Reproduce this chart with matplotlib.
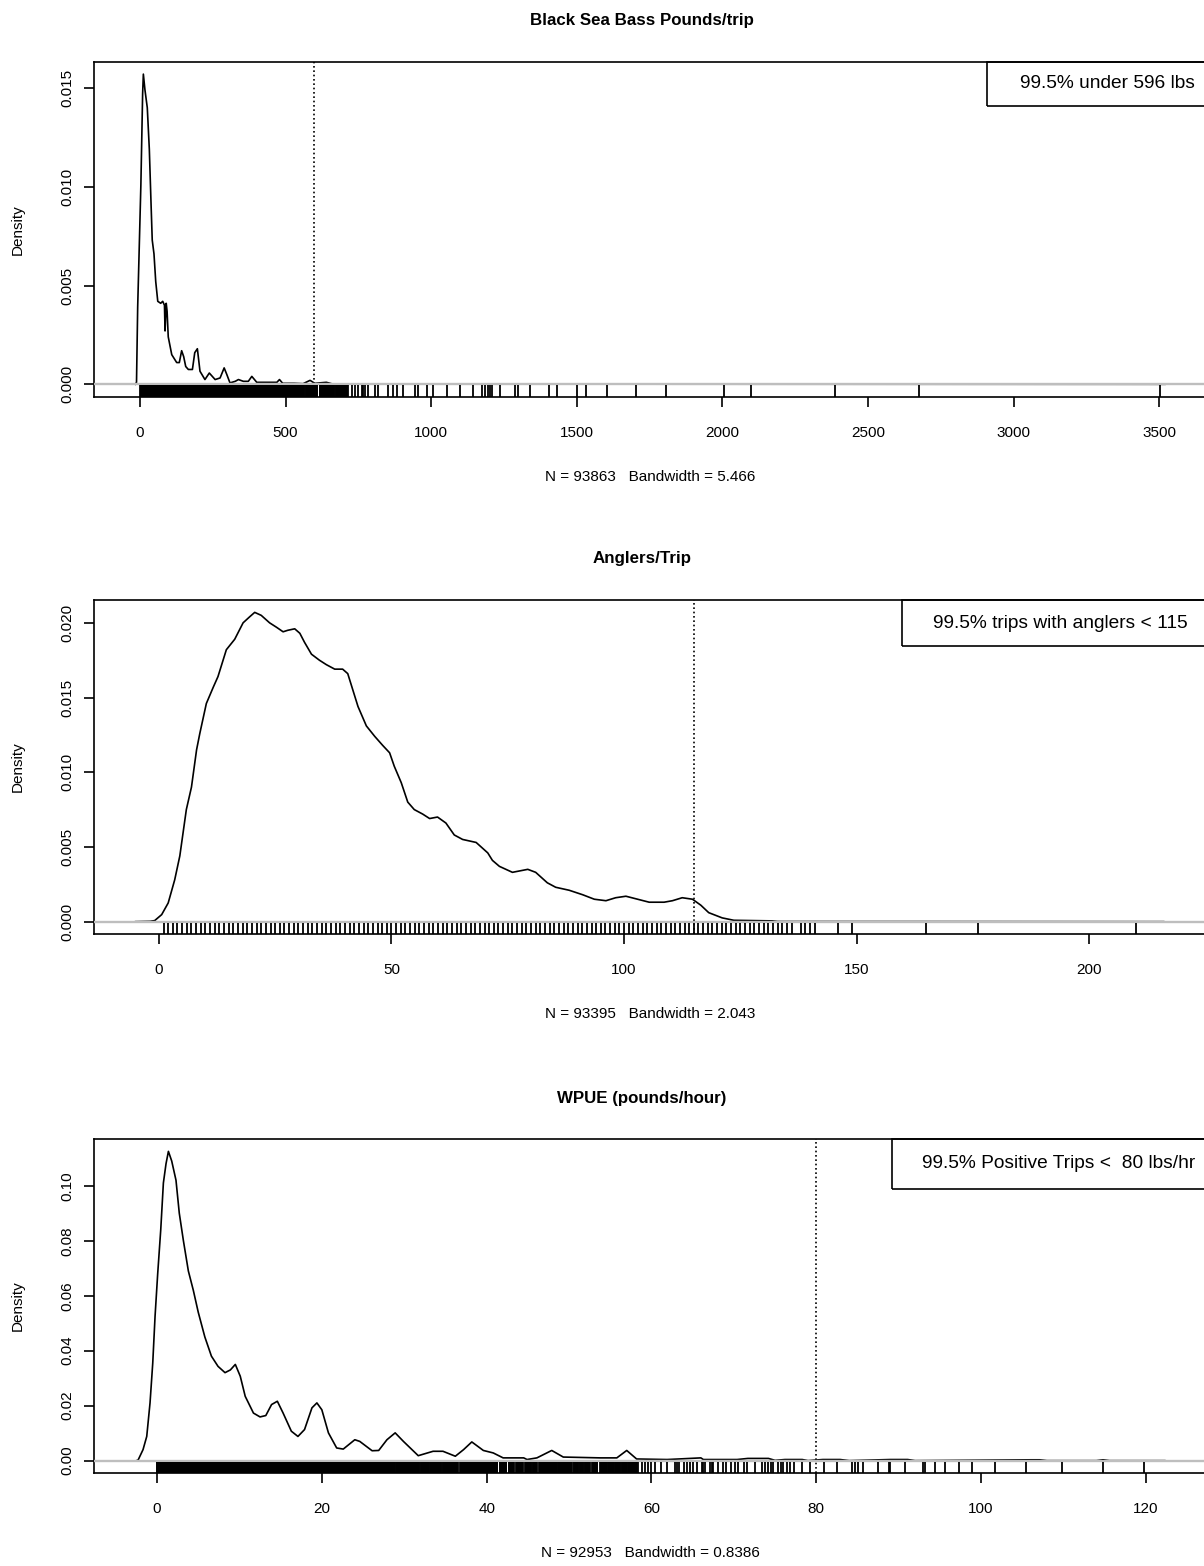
import numpy as np
import matplotlib
matplotlib.use("Agg")
import matplotlib.pyplot as plt
from matplotlib.patches import Rectangle

plt.rcParams['font.family'] = ['Liberation Sans', 'DejaVu Sans']

# ---------------- data ----------------
# Panel 1: Black Sea Bass pounds/trip density
bsb_x = [-16, -12, -8, 3, 9, 11.5, 17, 25, 32, 38, 42, 48, 54, 61, 71, 78, 84, 86, 90, 93,
         97, 109, 126, 135, 143, 150, 157, 166, 180, 188, 197, 206, 223, 238, 258, 275, 289,
         298, 309, 327, 338, 355, 372, 384, 401, 470, 479, 490, 530, 560, 584, 600, 640, 660,
         700, 3520]
bsb_y = [0, 0.0001, 0.0039, 0.0101, 0.0147, 0.0157, 0.0149, 0.0140, 0.0119, 0.0091, 0.0073,
         0.0066, 0.0052, 0.0042, 0.0041, 0.0042, 0.0040, 0.0027, 0.0041, 0.0037, 0.0024,
         0.0015, 0.0011, 0.0011, 0.0017, 0.0014, 0.0009, 0.00075, 0.00075, 0.0016, 0.0018,
         0.00066, 0.00024, 0.00057, 0.00024, 0.00032, 0.00083, 0.0005, 0.00007, 0.00015,
         0.00024, 0.00015, 0.00015, 0.0004, 0.0001, 0.0001, 0.00024, 0.00005, 0.00005,
         0.00003, 0.0002, 0.00005, 0.0001, 0.00002, 0.00001, 0]
bsb_rug_dense = [(1, 518), (521, 563), (570, 608), (617, 629), (635, 666), (673, 711)]
bsb_rug = [715, 728, 739, 750, 762, 767, 773, 784, 808, 818, 853, 870, 882, 904, 945, 956,
           986, 1007, 1054, 1100, 1145, 1175, 1186, 1196, 1203, 1209, 1238, 1289, 1299, 1341,
           1403, 1432, 1501, 1530, 1604, 1702, 1805, 2005, 2100, 2386, 2676, 3504]
bsb_cut = 596

# Panel 2: anglers/trip density
ang_x = [-5, -1.9, -0.9, 0.6, 2.0, 3.4, 4.5, 5.9, 7.0, 8.1, 8.8, 10.2, 11.7, 12.7, 14.5, 16.3,
         18.1, 19.5, 20.6, 22.0, 23.8, 25.3, 26.7, 27.7, 29.2, 30.3, 31.3, 32.8, 34.5, 36.0,
         37.8, 39.5, 40.6, 41.7, 42.8, 44.6, 46.4, 48.1, 49.6, 50.6, 52.1, 53.5, 54.9, 56.7,
         58.2, 59.9, 61.7, 63.5, 65.3, 68.2, 70.7, 71.7, 73.2, 76.0, 79.3, 81.0, 83.5, 85.3,
         88.2, 91.1, 93.6, 96.1, 98.2, 100.4, 102.9, 105.4, 108.6, 110.4, 112.5, 114.7, 116.5,
         118.2, 121.1, 123.6, 131.8, 133, 216]
ang_y = [0, 0.00002, 0.00007, 0.00047, 0.00125, 0.0028, 0.0044, 0.0075, 0.0090, 0.0115,
         0.0126, 0.0146, 0.0157, 0.0164, 0.0182, 0.0189, 0.0200, 0.0204, 0.0207, 0.0205,
         0.0200, 0.0197, 0.0194, 0.0195, 0.0196, 0.0193, 0.0187, 0.0179, 0.0175, 0.0172,
         0.0169, 0.0169, 0.0166, 0.0155, 0.0144, 0.0131, 0.0124, 0.0118, 0.0113, 0.0104,
         0.0093, 0.0080, 0.0075, 0.0072, 0.0069, 0.0070, 0.0066, 0.0058, 0.0055, 0.0053,
         0.0046, 0.0041, 0.0037, 0.0033, 0.0035, 0.0033, 0.0026, 0.0023, 0.0021, 0.0018,
         0.0015, 0.0014, 0.0016, 0.0017, 0.0015, 0.0013, 0.0013, 0.0014, 0.0016, 0.0015,
         0.0011, 0.0006, 0.00025, 0.00009, 0.00005, 0.00001, 0]
ang_rug_dense = [(1, 136)]          # every whole number of anglers observed
ang_rug = [138, 139, 140, 141, 146, 149, 165, 176, 210]
ang_cut = 115

# Panel 3: WPUE (pounds/hour) density
wp_x = [-2.5, -2.3, -1.7, -1.25, -0.85, -0.52, -0.24, 0.08, 0.45, 0.77, 1.09, 1.38, 1.78, 2.3,
        2.7, 3.2, 3.8, 4.4, 5.0, 5.8, 6.6, 7.4, 8.25, 8.9, 9.5, 10.1, 10.7, 11.7, 12.5, 13.2,
        13.9, 14.6, 15.3, 16.3, 17.1, 17.9, 18.8, 19.4, 20.0, 20.8, 21.8, 22.6, 24.0, 24.6,
        26.1, 26.9, 27.9, 28.9, 29.9, 31.7, 33.5, 34.7, 36.2, 37.2, 38.2, 39.6, 40.8, 42.0,
        44.5, 44.9, 46.1, 47.9, 49.3, 53.8, 55.8, 57.0, 58.2, 61.9, 63.3, 66.0, 66.3, 70.4,
        71.7, 74.2, 75.0, 76.2, 78.3, 79.0, 80.8, 82.9, 84.0, 89.0, 91.1, 92.0, 106.1, 107.1,
        108.0, 114.0, 114.8, 115.6, 122.3]
wp_y = [0, 0.0002, 0.004, 0.0088, 0.021, 0.0355, 0.0525, 0.068, 0.084, 0.101, 0.108, 0.1125,
        0.109, 0.102, 0.090, 0.080, 0.069, 0.062, 0.054, 0.045, 0.038, 0.0343, 0.032, 0.033,
        0.035, 0.0307, 0.0234, 0.0173, 0.0159, 0.0164, 0.0204, 0.0216, 0.0173, 0.0107, 0.0088,
        0.0113, 0.0192, 0.021, 0.0185, 0.0101, 0.0046, 0.0042, 0.0076, 0.0070, 0.0036, 0.0037,
        0.0076, 0.0101, 0.0070, 0.0018, 0.0034, 0.0034, 0.0016, 0.004, 0.0068, 0.0037, 0.0028,
        0.001, 0.001, 0.0004, 0.001, 0.0037, 0.0013, 0.0010, 0.0010, 0.0037, 0.0006, 0.0004,
        0.0006, 0.0010, 0.0004, 0.0004, 0.0008, 0.0008, 0.0001, 0.0004, 0.0004, 0.0, 0.0004,
        0.0004, 0.0, 0.0004, 0.0004, 0.0, 0.0003, 0.0003, 0.0, 0.0, 0.0003, 0.0, 0]
wp_rug_dense = [(0.0, 28.8), (29.0, 31.8), (32.0, 33.0), (33.2, 34.5), (34.7, 36.5), (36.8, 41.3),
                (41.6, 42.4), (42.7, 43.3), (43.6, 44.4), (44.7, 45.4), (45.6, 46.1), (46.4, 47.2),
                (47.3, 48.5), (48.7, 50.3), (50.6, 51.1), (51.3, 51.7), (51.9, 52.5), (52.8, 53.4),
                (53.8, 54.6), (54.8, 55.4), (55.6, 56.2), (56.4, 57.0), (57.2, 58.2)]
wp_rug = [58.4, 58.8, 59.2, 59.6, 60.0, 60.4, 61.2, 61.9, 62.9, 63.1, 63.3, 63.9, 64.3, 64.7,
          65.1, 65.5, 66.1, 66.3, 66.5, 67.1, 67.3, 67.5, 68.1, 68.7, 69.1, 69.7, 70.1, 70.5,
          71.2, 71.6, 72.6, 73.4, 73.8, 74.2, 74.5, 74.8, 75.4, 75.7, 76.0, 76.4, 76.8, 77.3,
          78.3, 79.3, 80.9, 82.5, 84.3, 84.7, 85.1, 85.7, 87.5, 88.8, 89.0, 90.8, 93.0, 93.2,
          94.4, 95.6, 97.3, 98.9, 101.7, 105.5, 109.8, 114.8, 119.8]
wp_cut = 80

titles = ["Black Sea Bass Pounds/trip", "Anglers/Trip", "WPUE (pounds/hour)"]
subs = ["N = 93863   Bandwidth = 5.466", "N = 93395   Bandwidth = 2.043",
        "N = 92953   Bandwidth = 0.8386"]
notes = ["99.5% under 596 lbs", "99.5% trips with anglers < 115",
         "99.5% Positive Trips <  80 lbs/hr"]
xticks = [[0, 500, 1000, 1500, 2000, 2500, 3000, 3500],
          [0, 50, 100, 150, 200],
          [0, 20, 40, 60, 80, 100, 120]]
yticks = [[0.000, 0.005, 0.010, 0.015],
          [0.000, 0.005, 0.010, 0.015, 0.020],
          [0.00, 0.02, 0.04, 0.06, 0.08, 0.10]]
ylabels = [["0.000", "0.005", "0.010", "0.015"],
           ["0.000", "0.005", "0.010", "0.015", "0.020"],
           ["0.00", "0.02", "0.04", "0.06", "0.08", "0.10"]]

# ---------------- layout (pixels) ----------------
W, H = 1204, 1566
fig = plt.figure(figsize=(W / 100, H / 100), dpi=100)
fig.patch.set_facecolor('white')

AX_L, AX_R = 94, 1206
panels_px = [(61.7, 396.7), (600, 934), (1139, 1473)]
xlims = [(-158, 3661), (-13.95, 225.1), (-7.65, 127.3)]
note_box = [(987, 106), (902, 646), (891.7, 1189)]   # box left, box bottom (px)
note_text_x = [1020, 933, 921.7]

curves = [(bsb_x, bsb_y, bsb_rug_dense, bsb_rug, bsb_cut, 1.0),
          (ang_x, ang_y, ang_rug_dense, ang_rug, ang_cut, 1.0),
          (wp_x, wp_y, wp_rug_dense, wp_rug, wp_cut, 0.05)]

LW = 1.2
for i, (top, bot) in enumerate(panels_px):
    ax = fig.add_axes([AX_L / W, 1 - bot / H, (AX_R - AX_L) / W, (bot - top) / H])
    dx, dy, dense, sparse, cut, step = curves[i]
    ymax = max(dy)
    ax.set_ylim(-0.04 * ymax, 1.04 * ymax)
    ax.set_xlim(*xlims[i])

    ax.plot(dx, dy, color='black', lw=LW, zorder=3)
    ax.axhline(0, color='#BEBEBE', lw=1.7, zorder=4)
    rx = np.concatenate([np.arange(a, b + step / 2, step) for a, b in dense] + [np.array(sparse)])
    ax.vlines(rx, 0, 0.034, transform=ax.get_xaxis_transform(), color='black', lw=1.3, zorder=5)
    ax.axvline(cut, color='black', lw=LW, linestyle=(0, (1, 1.6)), zorder=2)

    for s in ax.spines.values():
        s.set_linewidth(LW)
    ax.set_xticks(xticks[i])
    ax.set_xticklabels([str(v) for v in xticks[i]])
    ax.set_yticks(yticks[i])
    ax.set_yticklabels(ylabels[i], rotation=90, va='center')
    ax.tick_params(axis='both', direction='out', length=7, width=LW, labelsize=11)
    ax.tick_params(axis='x', pad=14)
    ax.tick_params(axis='y', pad=7)

    # note box (top-right corner, running off the right edge like the reference)
    bl, bb = note_box[i]
    bx0 = (bl - AX_L) / (AX_R - AX_L)
    by0 = 1 - (bb - top) / (bot - top)
    ax.add_patch(Rectangle((bx0, by0), 1.1 - bx0, 1 - by0, transform=ax.transAxes, fill=False,
                           edgecolor='black', lw=LW, clip_on=False, zorder=6))
    tx = (note_text_x[i] - AX_L) / (AX_R - AX_L)
    ax.text(tx, (1 + by0) / 2, notes[i], transform=ax.transAxes, ha='left', va='center',
            fontsize=13.8, zorder=7)

    cx = (AX_L + AX_R) / 2 / W
    fig.text(cx - 8 / W, 1 - (top - 41) / H, titles[i], ha='center', va='center',
             fontsize=12.2, fontweight='bold')
    fig.text(cx, 1 - (bot + 80) / H, subs[i], ha='center', va='center', fontsize=11)
    fig.text(18 / W, 1 - (top + bot) / 2 / H, "Density", rotation=90, ha='center',
             va='center', fontsize=11)

fig.savefig("out.png", dpi=100)
